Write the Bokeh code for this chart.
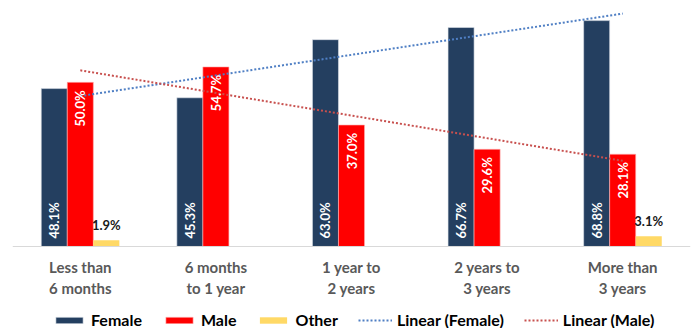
import numpy as np
from bokeh.plotting import figure
from bokeh.models import ColumnDataSource, FactorRange, Legend, LegendItem, Range1d, Span
from bokeh.transform import dodge
from bokeh.core.properties import value
from bokeh.embed import file_html
from bokeh.resources import INLINE

# Tenure groups and share of respondents (%) by gender
categories = ["Less than\n6 months", "6 months\nto 1 year", "1 year to\n2 years",
              "2 years to\n3 years", "More than\n3 years"]
female = [48.1, 45.3, 63.0, 66.7, 68.8]
male = [50.0, 54.7, 37.0, 29.6, 28.1]
other = [1.9, None, None, None, 3.1]

FONT = "Lato"
NAVY = "#243F60"
RED = "#FF0000"
GOLD = "#FFD966"

W = 0.192  # bar width in category units

# The plot area covers the whole canvas; the band below zero holds the
# category names and the legend.
p = figure(x_range=FactorRange(*categories, range_padding=0),
           y_range=Range1d(-24.98, 74.93),
           width=694, height=328, output_backend="svg", toolbar_location=None,
           min_border_left=12, min_border_right=4, min_border_top=0,
           min_border_bottom=0)
p.outline_line_color = None
p.grid.visible = False
p.axis.visible = False

src = ColumnDataSource(dict(
    cat=categories, female=female, male=male,
    other=[np.nan if v is None else v for v in other],
    f_lab=[f"{v:.1f}%" for v in female],
    m_lab=[f"{v:.1f}%" for v in male],
    m_pos=[v - 2.4 for v in male],
    f_pos=[2.4] * len(female),
    base=[0] * len(categories),
))

bf = p.vbar(x=dodge("cat", -W, range=p.x_range), top="female", width=W, source=src,
            fill_color=NAVY, line_color="#DDE3EA", line_width=0.6)
bm = p.vbar(x=dodge("cat", 0, range=p.x_range), top="male", width=W, source=src,
            fill_color=RED, line_color="#FFB0B0", line_width=0.6)
bo = p.vbar(x=dodge("cat", W, range=p.x_range), top="other", width=W, source=src,
            fill_color=GOLD, line_color=None)

# category axis line at zero
p.add_layout(Span(location=0, dimension="width", line_color="#D9D9D9", line_width=1))

# category names under the axis line
p.text(x="cat", y="base", text="cat", source=src, y_offset=12,
       text_align="center", text_baseline="top", text_line_height=1.15,
       text_color="#595959", text_font=value(FONT), text_font_style="bold",
       text_font_size="15px")

# Linear trendlines fitted over the category positions 1..5
xs = np.arange(1, len(categories) + 1)
lines = {}
for name, vals, col in (("Female", female, "#4F7FC4"), ("Male", male, "#C8504E")):
    k, b = np.polyfit(xs, vals, 1)
    ends = [k * xs[0] + b, k * xs[-1] + b]
    lines[name] = p.line(x=[categories[0], categories[-1]], y=ends,
                         line_color=col, line_width=2, line_dash="2 2")

# value labels
p.text(x=dodge("cat", -W, range=p.x_range), y="f_pos", text="f_lab", source=src,
       angle=np.pi / 2, text_align="left", text_baseline="middle",
       text_color="white", text_font=value(FONT), text_font_style="bold",
       text_font_size="13px")
p.text(x=dodge("cat", 0, range=p.x_range), y="m_pos", text="m_lab", source=src,
       angle=np.pi / 2, text_align="right", text_baseline="middle",
       text_color="white", text_font=value(FONT), text_font_style="bold",
       text_font_size="13px")

o_cat = [c for c, v in zip(categories, other) if v is not None]
o_val = [v for v in other if v is not None]
osrc = ColumnDataSource(dict(cat=o_cat, top=o_val, lab=[f"{v:.1f}%" for v in o_val]))
p.text(x=dodge("cat", W, range=p.x_range), y="top", text="lab", source=osrc,
       text_align="center", text_baseline="bottom", y_offset=-7,
       text_color="#1A1A1A", text_font=value(FONT), text_font_style="bold",
       text_font_size="13px")

legend = Legend(items=[
    LegendItem(label="Female", renderers=[bf]),
    LegendItem(label="Male", renderers=[bm]),
    LegendItem(label="Other", renderers=[bo]),
    LegendItem(label="Linear (Female)", renderers=[lines["Female"]]),
    LegendItem(label="Linear (Male)", renderers=[lines["Male"]]),
], orientation="horizontal", location=(40, -1),
    glyph_width=34, glyph_height=8, label_standoff=5, spacing=20,
    label_text_font=FONT, label_text_font_size="16px", label_text_font_style="bold",
    label_text_color="#000000", border_line_color=None, background_fill_alpha=0,
    padding=0, margin=0, label_height=16)
p.add_layout(legend, "center")

open("out.html", "w").write(file_html(p, INLINE))
